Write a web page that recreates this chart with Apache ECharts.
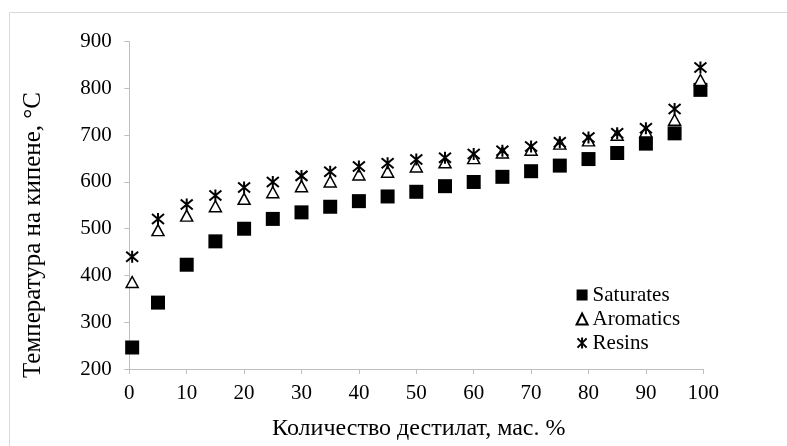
<!DOCTYPE html>
<html>
<head>
<meta charset="utf-8">
<script src="https://cdn.jsdelivr.net/npm/echarts@6/dist/echarts.min.js"></script>
<style>
html,body{margin:0;padding:0;background:#fff;}
#chart{width:787px;height:446px;}
</style>
</head>
<body>
<div id="chart"></div>
<script>
const xValues = [0.5, 5, 10, 15, 20, 25, 30, 35, 40, 45, 50, 55, 60, 65, 70, 75, 80, 85, 90, 95, 99.5];
const saturates = [246, 342, 423, 473, 500, 521, 535, 547, 559, 569, 579, 591, 600, 611, 623, 635, 649, 662, 682, 704, 797];
const aromatics = [386, 497, 528, 548, 564, 578, 591, 601, 616, 622, 633, 642, 651, 663, 669, 682, 689, 701, 708, 733, 818];
const resins = [440, 521, 552, 571, 588, 600, 613, 622, 633, 640, 648, 652, 660, 667, 676, 685, 695, 704, 715, 756, 845];
const seriesNames = ['Saturates', 'Aromatics', 'Resins'];
const xTitle = 'Количество дестилат, мас. %';
const yTitle = 'Температура на кипене, °С';

const pair = arr => arr.map((v, i) => [xValues[i], v]);
const FONT = 'Liberation Serif';
const asterisk = 'path://M0,0 L10,10 M10,0 L0,10 M5,-1 L5,11';

const chart = echarts.init(document.getElementById('chart'));
chart.setOption({
  animation: false,
  backgroundColor: '#fff',
  grid: {left: 129.3, right: 83.7, top: 41.7, bottom: 76},
  xAxis: {
    type: 'value', min: 0, max: 100, interval: 10,
    splitLine: {show: false},
    axisLine: {lineStyle: {color: '#bfbfbf', width: 1}},
    axisTick: {show: true, length: 5, lineStyle: {color: '#bfbfbf'}},
    axisLabel: {color: '#000', fontFamily: FONT, fontSize: 21, margin: 14},
    name: xTitle, nameLocation: 'middle', nameGap: 48,
    nameTextStyle: {color: '#000', fontFamily: FONT, fontSize: 24, padding: [0, 0, 0, 5]}
  },
  yAxis: {
    type: 'value', min: 200, max: 900, interval: 100,
    splitLine: {show: false},
    axisLine: {show: true, lineStyle: {color: '#bfbfbf', width: 1}},
    axisTick: {show: true, length: 5, lineStyle: {color: '#bfbfbf'}},
    axisLabel: {color: '#000', fontFamily: FONT, fontSize: 21, margin: 17.5}
  },
  legend: {
    orient: 'vertical', left: 570, top: 279.5, itemGap: 3,
    itemWidth: 11, itemHeight: 11,
    textStyle: {color: '#000', fontFamily: FONT, fontSize: 21},
    data: [
      {name: seriesNames[0], icon: 'rect', itemStyle: {color: '#000', borderWidth: 0}},
      {name: seriesNames[1], icon: 'triangle', itemStyle: {color: '#fff', borderColor: '#000', borderWidth: 2}},
      {name: seriesNames[2], icon: asterisk, itemStyle: {color: 'none', borderColor: '#000', borderWidth: 2}}
    ]
  },
  graphic: [
    {type: 'rect', shape: {x: 9.5, y: 12.5, width: 900, height: 600}, style: {fill: 'none', stroke: '#d9d9d9', lineWidth: 1}, silent: true},
    {type: 'text', x: 33, y: 235, rotation: Math.PI / 2,
     style: {text: yTitle, fill: '#000', font: '25px "Liberation Serif"', align: 'center', verticalAlign: 'middle'}}
  ],
  series: [
    {name: seriesNames[0], type: 'scatter', data: pair(saturates), symbol: 'rect', symbolSize: 14,
     itemStyle: {color: '#000', opacity: 1}},
    {name: seriesNames[1], type: 'scatter', data: pair(aromatics), symbol: 'triangle', symbolSize: [12, 11],
     itemStyle: {color: '#fff', borderColor: '#000', borderWidth: 1.5, opacity: 1}},
    {name: seriesNames[2], type: 'scatter', data: pair(resins), symbol: asterisk, symbolSize: 12,
     itemStyle: {color: 'none', borderColor: '#000', borderWidth: 2, opacity: 1}}
  ]
});
</script>
</body>
</html>
